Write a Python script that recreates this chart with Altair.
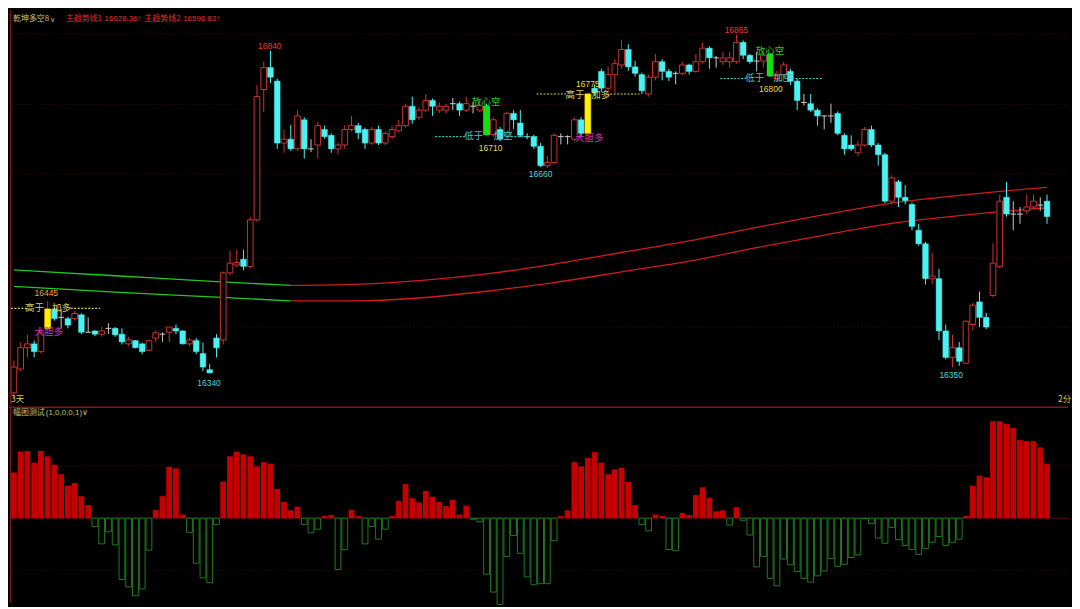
import altair as alt
import pandas as pd

# ---------------- data ----------------
opens = [16310, 16347, 16380, 16386, 16374, 16410, 16440, 16427, 16425, 16425,
         16431, 16404, 16406, 16401, 16410, 16410, 16401, 16386, 16391, 16386,
         16376, 16395, 16401, 16404, 16410, 16406, 16386, 16391, 16371, 16346,
         16395, 16392, 16496, 16508, 16517, 16506, 16578, 16780, 16814, 16793,
         16697, 16703, 16688, 16733, 16688, 16694, 16718, 16709, 16688, 16694,
         16718, 16724, 16718, 16697, 16718, 16697, 16707, 16716, 16724, 16754,
         16737, 16748, 16763, 16748, 16748, 16758, 16758, 16748, 16754, 16748,
         16754, 16710, 16718, 16709, 16743, 16728, 16707, 16707, 16692, 16662,
         16667, 16707, 16707, 16703, 16733, 16712, 16782, 16808, 16782, 16803,
         16818, 16842, 16815, 16803, 16773, 16799, 16823, 16808, 16805, 16805,
         16818, 16808, 16823, 16844, 16829, 16823, 16823, 16823, 16853, 16833,
         16824, 16824, 16835, 16797, 16803, 16808, 16793, 16760, 16758, 16748,
         16739, 16739, 16743, 16709, 16694, 16682, 16694, 16718, 16694, 16679,
         16607, 16637, 16613, 16602, 16562, 16541, 16487, 16487, 16406, 16365,
         16380, 16356, 16416, 16451, 16427, 16461, 16506, 16613, 16587, 16587,
         16592, 16598, 16601, 16607]
highs = [16360, 16388, 16400, 16391, 16412, 16452, 16443, 16440, 16428, 16437,
         16433, 16427, 16407, 16412, 16418, 16412, 16410, 16397, 16392, 16388,
         16392, 16407, 16404, 16412, 16416, 16407, 16395, 16395, 16388, 16355,
         16401, 16498, 16530, 16532, 16532, 16583, 16787, 16823, 16840, 16797,
         16718, 16725, 16748, 16737, 16703, 16730, 16724, 16712, 16698, 16725,
         16739, 16728, 16721, 16722, 16724, 16715, 16724, 16733, 16758, 16769,
         16752, 16773, 16766, 16760, 16758, 16767, 16761, 16769, 16761, 16763,
         16758, 16737, 16722, 16746, 16748, 16748, 16712, 16710, 16697, 16677,
         16712, 16712, 16709, 16737, 16737, 16775, 16788, 16812, 16815, 16827,
         16857, 16850, 16824, 16806, 16803, 16835, 16827, 16812, 16808, 16823,
         16820, 16835, 16853, 16847, 16832, 16838, 16838, 16865, 16856, 16835,
         16838, 16838, 16836, 16809, 16823, 16812, 16797, 16773, 16773, 16751,
         16740, 16758, 16746, 16712, 16709, 16700, 16722, 16724, 16697, 16682,
         16647, 16640, 16632, 16605, 16572, 16544, 16527, 16502, 16416, 16400,
         16389, 16422, 16449, 16467, 16434, 16542, 16617, 16637, 16607, 16598,
         16617, 16617, 16613, 16617]
lows = [16302, 16344, 16365, 16365, 16371, 16407, 16422, 16410, 16410, 16422,
        16401, 16403, 16398, 16397, 16401, 16397, 16385, 16382, 16379, 16370,
        16374, 16389, 16389, 16389, 16401, 16385, 16382, 16370, 16344, 16340,
        16365, 16385, 16493, 16505, 16500, 16503, 16575, 16745, 16790, 16688,
        16682, 16685, 16685, 16673, 16683, 16673, 16704, 16682, 16679, 16688,
        16715, 16703, 16688, 16694, 16694, 16694, 16703, 16713, 16721, 16727,
        16733, 16745, 16739, 16743, 16743, 16748, 16739, 16745, 16743, 16745,
        16710, 16707, 16700, 16706, 16719, 16706, 16703, 16688, 16660, 16658,
        16664, 16695, 16695, 16700, 16707, 16710, 16770, 16776, 16770, 16775,
        16812, 16809, 16800, 16773, 16769, 16794, 16794, 16793, 16788, 16802,
        16803, 16806, 16820, 16812, 16814, 16818, 16814, 16820, 16827, 16820,
        16808, 16814, 16800, 16793, 16793, 16787, 16748, 16755, 16745, 16724,
        16718, 16728, 16709, 16679, 16685, 16677, 16691, 16691, 16662, 16604,
        16602, 16598, 16602, 16562, 16538, 16478, 16478, 16392, 16362, 16350,
        16352, 16355, 16407, 16412, 16409, 16458, 16503, 16583, 16562, 16572,
        16587, 16595, 16592, 16572]
closes = [16350, 16380, 16386, 16374, 16403, 16440, 16425, 16427, 16415, 16433,
          16404, 16404, 16401, 16406, 16410, 16400, 16389, 16392, 16380, 16374,
          16391, 16403, 16401, 16412, 16406, 16386, 16392, 16374, 16350, 16341,
          16380, 16496, 16511, 16512, 16506, 16578, 16769, 16814, 16799, 16697,
          16703, 16688, 16739, 16688, 16688, 16724, 16707, 16688, 16694, 16718,
          16724, 16713, 16697, 16718, 16697, 16712, 16718, 16724, 16754, 16733,
          16748, 16763, 16754, 16754, 16754, 16758, 16748, 16758, 16754, 16755,
          16710, 16733, 16703, 16743, 16733, 16709, 16707, 16692, 16662, 16667,
          16709, 16707, 16707, 16733, 16712, 16773, 16775, 16782, 16803, 16820,
          16842, 16815, 16805, 16778, 16799, 16823, 16808, 16799, 16805, 16818,
          16808, 16823, 16844, 16829, 16829, 16829, 16829, 16853, 16833, 16823,
          16824, 16833, 16801, 16803, 16818, 16793, 16763, 16760, 16748, 16739,
          16739, 16739, 16712, 16688, 16688, 16694, 16718, 16694, 16679, 16607,
          16643, 16613, 16608, 16568, 16541, 16487, 16491, 16406, 16365, 16380,
          16359, 16421, 16446, 16427, 16412, 16511, 16607, 16587, 16587, 16587,
          16598, 16607, 16601, 16583]

buy_signal_idx = [5, 85]
sell_signal_idx = [70, 112]

hist_vals = [0.87, 1.27, 1.28, 1.06, 1.28, 1.18, 1.02, 0.84, 0.62, 0.67,
             0.42, 0.25, -0.16, -0.49, -0.26, -0.51, -1.17, -1.31, -1.48, -1.35,
             -0.61, 0.16, 0.42, 0.98, 0.95, 0.07, -0.27, -0.86, -1.14, -1.23,
             -0.12, 0.70, 1.18, 1.27, 1.22, 1.18, 0.99, 1.07, 1.04, 0.56,
             0.31, 0.15, 0.22, -0.12, -0.28, -0.21, 0.04, 0.06, -0.98, -0.60,
             0.16, 0.04, -0.49, -0.16, -0.40, -0.21, 0.04, 0.33, 0.65, 0.38,
             0.30, 0.52, 0.41, 0.31, 0.23, 0.35, 0.07, 0.24, -0.02, -0.07,
             -1.07, -1.41, -1.65, -0.73, -0.33, -0.67, -1.12, -1.27, -1.25, -1.25,
             -0.43, 0.04, 0.15, 1.07, 0.99, 1.15, 1.26, 1.06, 0.84, 0.93,
             0.96, 0.69, 0.25, -0.12, -0.24, 0.07, 0.04, -0.60, -0.62, 0.10,
             0.06, 0.44, 0.59, 0.39, 0.13, 0.15, -0.13, 0.21, -0.04, -0.32,
             -0.93, -0.73, -1.15, -1.29, -0.78, -0.89, -1.02, -1.15, -1.22, -1.10,
             -1.01, -0.77, -0.92, -0.88, -0.75, -0.70, -0.01, -0.10, -0.38, -0.48,
             -0.18, -0.41, -0.52, -0.60, -0.69, -0.58, -0.46, -0.35, -0.52, -0.46,
             -0.40, 0.04, 0.62, 0.81, 0.78, 1.85, 1.85, 1.80, 1.72, 1.49,
             1.47, 1.47, 1.35, 1.04]

ma_index = [0, 15, 30, 41, 50, 60, 70, 80, 90, 100, 110, 120, 130, 140, 153]
ma1 = [16500.5, 16491.5, 16482.5, 16476.5, 16478, 16484, 16494.5, 16509.5,
       16527.5, 16545.5, 16566.5, 16586, 16604, 16616, 16628.36]
ma2 = [16475, 16466, 16458.5, 16452.5, 16452.5, 16457, 16467.5, 16481,
       16497.5, 16514, 16535, 16554.5, 16572.5, 16584.5, 16596.82]
ma_turn = 41

grid_prices = [16865, 16757, 16650, 16518, 16412]
hist_grid = [1, -1]

label_text = ["16840", "16865", "16445", "16340", "16660", "16350", "16710", "16775", "16800"]
label_i = [37.9, 107.0, 4.8, 28.9, 78.0, 138.8, 70.6, 85.0, 112.1]
label_p = [16847, 16872, 16464, 16326, 16649, 16337, 16689, 16789, 16781]
label_kind = ["red", "red", "org", "cyan", "cyan", "cyan", "gold", "gold", "gold"]

ann_text = ["高于", "加多", "大胆多", "放心空", "低于", "加空",
            "高于", "加多", "大胆多", "放心空", "低于", "加空"]
ann_i = [3.05, 7.04, 5.16, 69.95, 68.1, 72.45, 83.1, 86.9, 85.2, 111.97, 109.7, 113.9]
ann_p = [16441, 16441, 16404, 16761, 16708, 16708, 16772, 16772, 16705, 16840, 16797, 16797]
ann_kind = ["ylw", "ylw", "mag", "grn", "cyn", "cyn", "ylw", "ylw", "mag", "grn", "cyn", "cyn"]

dash_a = [-0.44, 8.42, 62.4, 73.6, 77.4, 88.3, 104.6, 115.2]
dash_b = [1.89, 12.78, 66.8, 77.7, 81.8, 92.65, 108.6, 119.8]
dash_p = [16441, 16441, 16707, 16707, 16773, 16773, 16797, 16797]
dash_kind = ["ylw", "ylw", "cyn", "cyn", "ylw", "ylw", "cyn", "cyn"]

# ---------------- styling ----------------
W, H_TOP, H_BOT = 1064, 396, 197
RED = "#cc3333"
CYAN = "#4af2f2"
GREY = "#c8c8c8"
HRED = "#c40000"
HGREEN = "#1f7a1f"
FRAME = "#8a1414"
GRID = "#3c0909"
CJK = "Noto Sans CJK SC"
NUM = "Liberation Sans"
KHAKI = "#c8c070"
HRED_TXT = "#e03030"

XS = alt.Scale(domain=[-0.726, 156.11], nice=False, zero=False)
YT = alt.Scale(domain=[16292, 16902.5], nice=False, zero=False)
YB = alt.Scale(domain=[-1.611, 2.13], nice=False, zero=False)
KIND_SCALE = alt.Scale(
    domain=["red", "org", "cyan", "gold", "ylw", "mag", "grn", "cyn"],
    range=["#e83a3a", "#f0a040", "#40d8d8", "#e8d850", "#d8d060", "#d030c8", "#20d020", "#40c8c8"],
)

# ---------------- tables ----------------
kinds = ["up" if c > o else ("down" if c < o else "doji") for o, c in zip(opens, closes)]
sigs = ["buy" if k in buy_signal_idx else ("sell" if k in sell_signal_idx else "none")
        for k in range(len(opens))]
cd = pd.DataFrame({"i": list(range(len(opens))), "o": opens, "h": highs, "l": lows,
                   "c": closes, "kind": kinds, "sig": sigs})
cd["x0"] = cd["i"] - 0.42
cd["x1"] = cd["i"] + 0.42

rows = []
for k, ix in enumerate(ma_index):
    rows.append({"i": ix, "p": ma1[k], "line": "ma1"})
    rows.append({"i": ix, "p": ma2[k], "line": "ma2"})
mad = pd.DataFrame(rows)

hd = pd.DataFrame({"i": list(range(len(hist_vals))), "v": hist_vals})
hd["x0"] = hd["i"] - 0.43
hd["x1"] = hd["i"] + 0.43
hd["z"] = 0.0

lab = pd.DataFrame({"i": label_i, "p": label_p, "t": label_text, "k": label_kind})
ann = pd.DataFrame({"i": ann_i, "p": ann_p, "t": ann_text, "k": ann_kind})
dsh = pd.DataFrame({"a": dash_a, "b": dash_b, "p": dash_p, "k": dash_kind})
grd = pd.DataFrame({"p": grid_prices})
hgrd = pd.DataFrame({"v": hist_grid})
zer = pd.DataFrame({"v": [0.0]})
one = pd.DataFrame({"n": [0]})

# ---------------- top panel ----------------
cb = alt.Chart(cd)
X_I = alt.X("i:Q", scale=XS, axis=None)
X_0 = alt.X("x0:Q", scale=XS, axis=None)

grid_top = alt.Chart(grd).mark_rule(color=GRID, strokeDash=[1, 2], strokeWidth=1).encode(
    y=alt.Y("p:Q", scale=YT, axis=None))

ma_green = alt.Chart(mad).transform_filter(f"datum.i <= {ma_turn}").mark_line(
    color="#22c822", strokeWidth=1.3, interpolate="monotone").encode(
    x=X_I, y=alt.Y("p:Q", scale=YT, axis=None), detail="line:N")
ma_red = alt.Chart(mad).transform_filter(f"datum.i >= {ma_turn}").mark_line(
    color="#d01c1c", strokeWidth=1.3, interpolate="monotone").encode(
    x=X_I, y=alt.Y("p:Q", scale=YT, axis=None), detail="line:N")

def wick(kind, color):
    return cb.transform_filter(f"datum.kind == '{kind}'").mark_rule(
        color=color, strokeWidth=1).encode(
        x=X_I, y=alt.Y("l:Q", scale=YT, axis=None), y2="h:Q")

def body(flt, fill, stroke, sw):
    return cb.transform_filter(flt).mark_bar(
        fill=fill, stroke=stroke, strokeWidth=sw).encode(
        x=X_0, x2="x1:Q", y=alt.Y("o:Q", scale=YT, axis=None), y2="c:Q")

doji = cb.transform_filter("datum.kind == 'doji'").mark_rule(
    color=GREY, strokeWidth=1).encode(
    x=X_0, x2="x1:Q", y=alt.Y("o:Q", scale=YT, axis=None))

dashes = alt.Chart(dsh).mark_rule(strokeDash=[2, 1.5], strokeWidth=1.2).encode(
    x=alt.X("a:Q", scale=XS, axis=None), x2="b:Q",
    y=alt.Y("p:Q", scale=YT, axis=None),
    color=alt.Color("k:N", scale=KIND_SCALE, legend=None))

ann_txt = alt.Chart(ann).mark_text(font=CJK, fontSize=9.5, align="center", baseline="middle").encode(
    x=X_I, y=alt.Y("p:Q", scale=YT, axis=None), text="t:N",
    color=alt.Color("k:N", scale=KIND_SCALE, legend=None))
lab_txt = alt.Chart(lab).mark_text(font=NUM, fontSize=8.5, align="center", baseline="middle").encode(
    x=X_I, y=alt.Y("p:Q", scale=YT, axis=None), text="t:N",
    color=alt.Color("k:N", scale=KIND_SCALE, legend=None))

def header(text, x, y, color, size=8.5, font=CJK):
    return alt.Chart(pd.DataFrame({"t": [text]})).mark_text(
        font=font, fontSize=size, align="left", baseline="middle", color=color).encode(
        text="t:N", x=alt.value(x), y=alt.value(y))

left_frame_top = alt.Chart(one).mark_rule(color=FRAME, strokeWidth=1.2).encode(
    x=alt.value(1.5), y=alt.value(0), y2=alt.value(H_TOP))

top = alt.layer(
    grid_top, ma_green, ma_red,
    wick("up", RED), wick("down", CYAN), wick("doji", GREY),
    body("datum.kind == 'up'", "black", RED, 1),
    body("datum.kind == 'down'", CYAN, CYAN, 0.5),
    doji,
    body("datum.sig == 'buy'", "#f5f500", "#f5f500", 0.5),
    body("datum.sig == 'sell'", "#12e012", "#12e012", 0.5),
    dashes, ann_txt, lab_txt,
    header("乾坤多空8", 4, 9, KHAKI, size=8),
    header("∨", 41, 10, KHAKI, size=7, font=NUM),
    header("主趋势线1", 57, 9, HRED_TXT, size=8),
    header("16628.36↑", 96, 9, HRED_TXT, size=8, font=NUM),
    header("主趋势线2", 136, 9, HRED_TXT, size=8),
    header("16596.82↑", 175, 9, HRED_TXT, size=8, font=NUM),
    header("3天", 2, 390, "#d8c850", size=8.5),
    header("2分", 1054, 390, "#d8c850", size=8.5),
    left_frame_top,
).properties(width=W, height=H_TOP)

# ---------------- bottom panel ----------------
hb = alt.Chart(hd)
grid_bot = alt.Chart(hgrd).mark_rule(color=GRID, strokeDash=[1, 2], strokeWidth=1).encode(
    y=alt.Y("v:Q", scale=YB, axis=None))
zero_line = alt.Chart(zer).mark_rule(color="#5a0c0c", strokeWidth=1).encode(
    y=alt.Y("v:Q", scale=YB, axis=None))
pos_bars = hb.transform_filter("datum.v > 0").mark_bar(fill=HRED).encode(
    x=X_0, x2="x1:Q", y=alt.Y("v:Q", scale=YB, axis=None), y2="z:Q")
neg_bars = hb.transform_filter("datum.v < 0").mark_bar(
    fill="black", stroke=HGREEN, strokeWidth=1).encode(
    x=X_0, x2="x1:Q", y=alt.Y("v:Q", scale=YB, axis=None), y2="z:Q")
sep = alt.Chart(one).mark_rule(color=FRAME, strokeWidth=1.5).encode(
    x=alt.value(0), x2=alt.value(W), y=alt.value(0.75))
left_frame_bot = alt.Chart(one).mark_rule(color=FRAME, strokeWidth=1.2).encode(
    x=alt.value(1.5), y=alt.value(0), y2=alt.value(H_BOT))

bottom = alt.layer(
    grid_bot, zero_line, pos_bars, neg_bars, sep, left_frame_bot,
    header("幅图测试", 4, 7, KHAKI, size=8),
    header("(1,0,0,0,1)∨", 37, 7, KHAKI, size=8, font=NUM),
).properties(width=W, height=H_BOT)

chart = alt.vconcat(top, bottom, spacing=0).properties(
    background="black", padding=0
).configure_view(strokeWidth=0)

chart.save("out.html", embed_options={"renderer": "svg", "actions": False})
